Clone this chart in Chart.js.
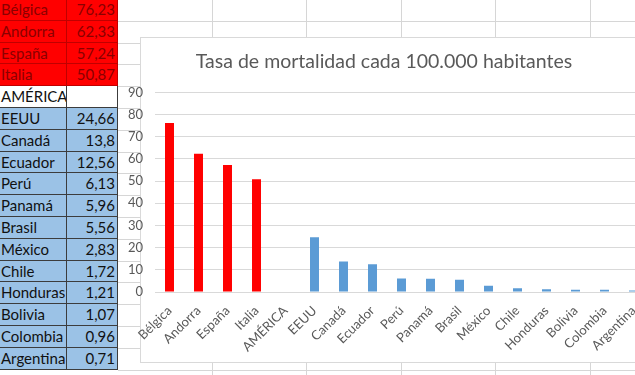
<!DOCTYPE html>
<html lang="es">
<head>
  <meta charset="UTF-8"/>
  <title>Tasa de mortalidad</title>
  <script src="https://cdn.jsdelivr.net/npm/chart.js"></script>
  <style>
    html, body {
      margin: 0;
      padding: 0;
      width: 635px;
      height: 375px;
      overflow: hidden;
      background: #fff;
      font-family: 'Lato', sans-serif;
    }

    /* spreadsheet cells behind the chart */
    .sheet {
      position: absolute;
      left: 118px;
      top: 0;
      width: 560px;
      height: 375px;
      background-image:
        repeating-linear-gradient(to right, transparent 0 93.5px, #d6d6d6 93.5px 94.5px),
        repeating-linear-gradient(to bottom, transparent 0 20.8px, #d6d6d6 20.8px 21.8px);
    }

    .tabla {
      position: absolute;
      left: 0;
      top: -1px;
      display: grid;
      grid-template-columns: 66px 50px;
      grid-auto-rows: 20.8px;
      gap: 1px;
      padding: 0 1px 1px 0;
      background: linear-gradient(to bottom, #c00000 0 87px, #3c3c3c 87px);
    }

    .tabla div {
      font-size: 15px;
      line-height: 20.8px;
      padding: 0 2px 0 1px;
      white-space: nowrap;
      overflow: hidden;
    }

    .tabla .num { text-align: right; }
    .tabla .eu { background: #ff0000; color: #8a0000; }
    .tabla .am { background: #9bc2e6; color: #111; }
    .tabla .hd { background: #fff; color: #111; }

    .marco {
      position: absolute;
      left: 140px;
      top: 37px;
      width: 520px;
      height: 324px;
      background: #fff;
      border: 1px solid #d9d9d9;
    }

    .wrap {
      position: absolute;
      left: 120px;
      top: 37px;
      width: 530px;
      height: 325px;
    }
  </style>
</head>
<body>
  <div class="sheet"></div>
  <div class="tabla" id="tabla"></div>
  <div class="marco"></div>
  <div class="wrap"><canvas id="chart"></canvas></div>

  <script>
    const paises = ["Bélgica", "Andorra", "España", "Italia", "AMÉRICA", "EEUU", "Canadá", "Ecuador", "Perú",
      "Panamá", "Brasil", "México", "Chile", "Honduras", "Bolivia", "Colombia", "Argentina"];
    const tasa = [76.23, 62.33, 57.24, 50.87, null, 24.66, 13.8, 12.56, 6.13,
      5.96, 5.56, 2.83, 1.72, 1.21, 1.07, 0.96, 0.71];
    const region = ["eu", "eu", "eu", "eu", "hd", "am", "am", "am", "am",
      "am", "am", "am", "am", "am", "am", "am", "am"];
    const yTicks = [0, 10, 20, 30, 40, 50, 60, 70, 80, 90];

    const colores = { eu: "#ff0000", am: "#5b9bd5", hd: "#ffffff" };

    // tabla de la izquierda
    const tabla = document.getElementById('tabla');
    paises.forEach((p, i) => {
      const a = document.createElement('div');
      a.className = region[i];
      a.textContent = p;
      const b = document.createElement('div');
      b.className = region[i] + ' num';
      b.textContent = tasa[i] === null ? '' : String(tasa[i]).replace('.', ',');
      tabla.appendChild(a);
      tabla.appendChild(b);
    });

    Chart.defaults.font.family = "'Lato', sans-serif";
    Chart.defaults.color = '#595959';

    new Chart(document.getElementById('chart'), {
      type: 'bar',
      data: {
        labels: paises,
        datasets: [{
          data: tasa,
          backgroundColor: region.map(r => colores[r]),
          barPercentage: 0.31,
          categoryPercentage: 1
        }]
      },
      options: {
        responsive: true,
        maintainAspectRatio: false,
        animation: false,
        layout: { padding: { right: 2 } },
        plugins: {
          legend: { display: false },
          tooltip: { enabled: false },
          title: {
            display: true,
            text: 'Tasa de mortalidad cada 100.000 habitantes',
            color: '#595959',
            font: { size: 19.5, weight: 'normal' },
            padding: { top: 13, bottom: 19 }
          }
        },
        scales: {
          x: {
            grid: { display: false },
            border: { color: '#d9d9d9' },
            ticks: {
              font: { size: 13 },
              minRotation: 45,
              maxRotation: 45,
              autoSkip: false,
              padding: 3
            },
            afterFit: s => { s.height = 70; }
          },
          y: {
            min: 0,
            max: 90,
            afterBuildTicks: s => { s.ticks = yTicks.map(v => ({ value: v })); },
            grid: { color: '#d9d9d9', drawTicks: false },
            border: { display: false },
            ticks: { font: { size: 13 }, padding: 12 },
            afterFit: s => { s.width = 35; }
          }
        }
      }
    });
  </script>
</body>
</html>
